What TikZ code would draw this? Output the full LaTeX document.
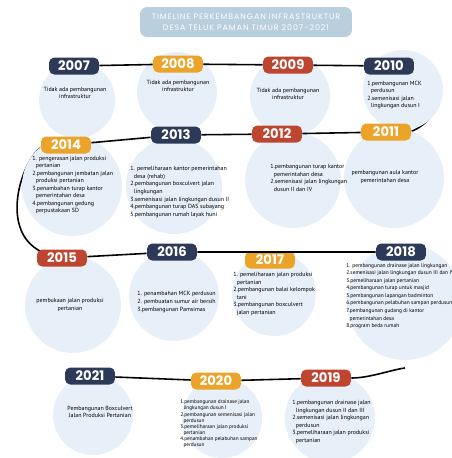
\documentclass[tikz,border=0pt]{standalone}
\usepackage{fontspec}
\setmainfont{PT Sans}
\newfontfamily\yearfont{Poppins}
\newfontfamily\titlefont[LetterSpace=12]{Poppins}
\usetikzlibrary{positioning,calc}

\definecolor{navy}{HTML}{2C3A57}
\definecolor{gold}{HTML}{EBA32A}
\definecolor{brick}{HTML}{BE4530}
\definecolor{blob}{HTML}{E7EFF8}
\definecolor{titlebox}{HTML}{B9CFDD}
\newcommand{\notesize}{\fontsize{3.4}{4.3}\selectfont}
\newcommand{\ind}{\hspace*{0.6em}}

\begin{document}
\begin{tikzpicture}[x=0.02cm,y=-0.02cm,
  yr/.style={rounded corners=3pt,minimum width=1cm,minimum height=0.34cm,inner sep=0pt,text=white,font=\yearfont\bfseries\fontsize{7.5}{8}\selectfont},
  blobc/.style={circle,fill=blob,inner sep=0pt},
  note/.style={inner sep=0pt,align=left,anchor=west,font=\notesize},
  notec/.style={inner sep=0pt,align=center,font=\notesize},
  link/.style={line width=0.9pt}]
\useasboundingbox (0,0) rectangle (452,458);
\clip (0,0) rectangle (452,458);

% title
\node [fill=titlebox,rounded corners=4pt,minimum width=4.24cm,minimum height=0.6cm,text=white,align=center,inner sep=0pt,font=\titlefont\fontsize{4.5}{6.2}\selectfont] (title) at (246,22) {TIMELINE PERKEMBANGAN INFRASTRUKTUR\\DESA TELUK PAMAN TIMUR 2007-2021};

% year pills first as anchors for the curves
\path (389,66) coordinate (p2010) (386,132) coordinate (p2011) (66,145) coordinate (p2014) (62,258) coordinate (p2015);
\coordinate (tail) at (405,368);

% curves that pass behind the circles
\draw [link] ($(p2010)+(24,0)$) .. controls (440,70) and (452,115) .. ($(p2011)+(24,0)$);
\draw [link] ($(p2014)+(-20,0)$) .. controls (25,150) and (-5,230) .. ($(p2015)+(-20,-6)$);

% circles
\node [blobc,minimum size=1.52cm] (c2007) at (77,100) {};
\node [blobc,minimum size=1.6cm] (c2008) at (177,92) {};
\node [blobc,minimum size=1.6cm] (c2009) at (290,96) {};
\node [blobc,minimum size=1.6cm] (c2010) at (403,90) {};
\node [blobc,minimum size=2cm] (c2014) at (72,186) {};
\node [blobc,minimum size=1.92cm] (c2013) at (174,186) {};
\node [blobc,minimum size=1.92cm] (c2012) at (293,180) {};
\node [blobc,minimum size=2cm] (c2011) at (394,178) {};
\node [blobc,minimum size=1.92cm] (c2015) at (73,305) {};
\node [blobc,minimum size=1.8cm] (c2016) at (174,296) {};
\node [blobc,minimum size=1.68cm] (c2017) at (274,294) {};
\node [blobc,minimum size=2.32cm] (c2018) at (405,302) {};
\node [blobc,minimum size=1.6cm] (c2021) at (93,415) {};
\node [blobc,minimum size=1.6cm] (c2020) at (222,418) {};
\node [blobc,minimum size=1.8cm] (c2019) at (330,418) {};

% years
\node [yr,fill=navy] (y2007) at (74,66) {2007};
\node [yr,fill=gold] (y2008) at (178,64) {2008};
\node [yr,fill=brick] (y2009) at (288,65) {2009};
\node [yr,fill=navy] (y2010) at (p2010) {2010};
\node [yr,fill=gold] (y2011) at (p2011) {2011};
\node [yr,fill=brick] (y2012) at (277,134) {2012};
\node [yr,fill=navy] (y2013) at (176,135) {2013};
\node [yr,fill=gold] (y2014) at (p2014) {2014};
\node [yr,fill=brick] (y2015) at (p2015) {2015};
\node [yr,fill=navy] (y2016) at (172,252) {2016};
\node [yr,fill=gold] (y2017) at (270,260) {2017};
\node [yr,fill=navy] (y2018) at (401,252) {2018};
\node [yr,fill=brick] (y2019) at (326,378) {2019};
\node [yr,fill=gold] (y2020) at (216,381) {2020};
\node [yr,fill=navy] (y2021) at (90,376) {2021};

% straight links
\draw [link] (y2007) -- (y2008) -- (y2009) -- (y2010);
\draw [link] (y2011) -- (y2012) -- (y2013) -- (y2014);
\draw [link] (y2015) -- (y2016) -- (y2018);
\draw [link] (y2021) -- (y2020) -- (y2019);
\draw [link] (y2019.east) .. controls (370,378) and (390,370) .. (tail);

% texts
\node [notec] (t2007) at (75,93) {Tidak ada pembangunan\\infrastruktur};
\node [notec] (t2008) at (178,86) {Tidak ada pembangunan\\infrastruktur};
\node [notec] (t2009) at (288,94) {Tidak ada pembangunan\\infrastruktur};
\node [note] (t2010) at (367,95) {1.pembangunan MCK\\\ind perdusun\\2.semenisasi jalan\\\ind lingkungan dusun I};
\node [note] (t2014) at (32,185) {1. pengerasan jalan produksi\\\ind pertanian\\2.pembangunan jembatan jalan\\\ind produksi pertanian\\3.penambahan turap kantor\\\ind pemerintahan desa\\4.pembangunan gedung\\\ind perpustakaan SD};
\node [note] (t2013) at (130,192) {1. pemeliharaan kantor pemerintahan\\\ind desa (rehab)\\2.pembangunan boxculvert jalan\\\ind lingkungan\\3.semenisasi jalan lingkungan dusun II\\4.pembangunan turap DAS subayang\\5.pembangunan rumah layak huni};
\node [note] (t2012) at (270,178) {1.pembangunan turap kantor\\\ind pemerintahan desa\\2.semenisasi jalan lingkungan\\\ind dusun II dan IV};
\node [notec] (t2011) at (385,177) {pembangunan aula kantor\\pemerintahan desa};
\node [notec] (t2015) at (70,305) {pembukaan jalan produksi\\pertanian};
\node [note] (t2016) at (137,302) {1. penambahan MCK perdusun\\2. pembuatan sumur air bersih\\3.pembangunan Pamsimas};
\node [note] (t2017) at (233,294) {1. pemeliharaan jalan produksi\\\ind pertanian\\2.pembangunan balai kelompok\\\ind tani\\3.pembangunan boxculvert\\\ind jalan pertanian};
\node [note,font=\fontsize{3.1}{4.3}\selectfont] (t2018) at (346,296) {1. pembangunan drainase jalan lingkungan\\2.semenisasi jalan lingkungan dusun III dan IV\\3.pemeliharaan jalan pertanian\\4.pembangunan turap untuk masjid\\5.pembangunan lapangan badminton\\6.pembangunan pelabuhan sampan perdusun\\7.pembangunan gudang di kantor\\\ind pemerintahan desa\\8.program beda rumah};
\node [notec] (t2021) at (100,412) {Pembangunan Boxculvert\\Jalan Produksi Pertanian};
\node [note,font=\fontsize{3}{3.5}\selectfont] (t2020) at (180,424) {1.pembangunan drainase jalan\\\ind lingkungan dusun I\\2.pembangunan semenisasi jalan\\\ind perdusun\\3.pemeliharaan jalan produksi\\\ind pertanian\\4.penambahan pelabuhan sampan\\\ind perdusun};
\node [note] (t2019) at (292,422) {1.pembangunan drainase jalan\\\ind lingkungan dusun II dan III\\2.semenisasi jalan lingkungan\\\ind perdusun\\3.pemeliharaan jalan produksi\\\ind pertanian};
\end{tikzpicture}
\end{document}
